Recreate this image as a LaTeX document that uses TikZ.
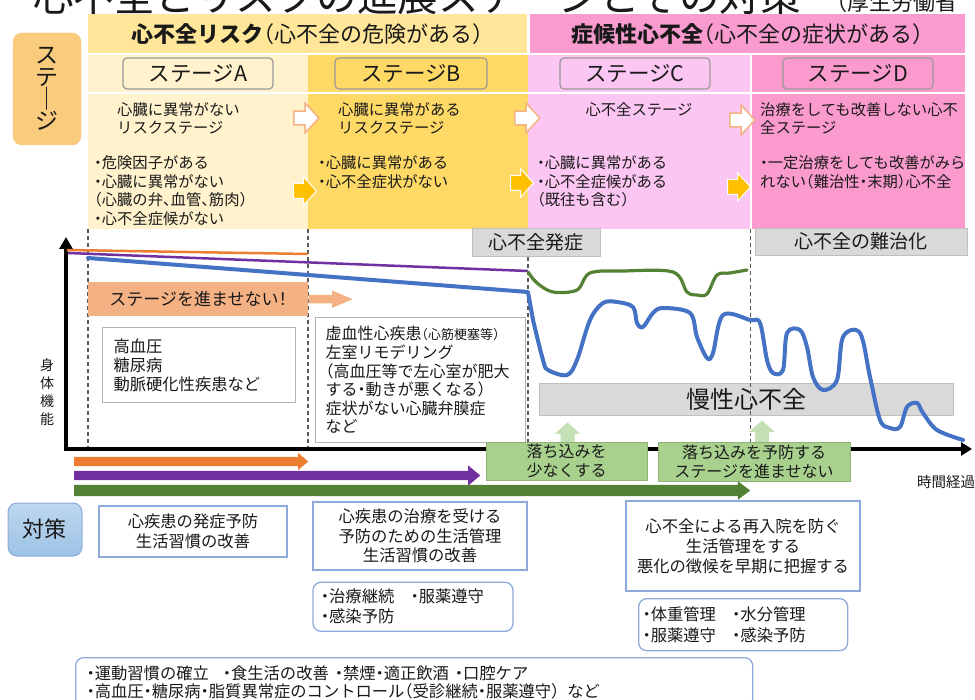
\documentclass[tikz,border=0pt]{standalone}
\usepackage{fontspec}
\setmainfont{Noto Sans CJK JP}[RawFeature=+halt]
\usepackage{tikz}
\usetikzlibrary{shapes.arrows, arrows.meta, positioning}

\definecolor{hdrrisk}{HTML}{FFE699}
\definecolor{hdrsymp}{HTML}{F99BCF}
\definecolor{stA}{HTML}{FFF2CC}
\definecolor{stB}{HTML}{FFD966}
\definecolor{stC}{HTML}{FCC6F2}
\definecolor{stD}{HTML}{FA9ACD}
\definecolor{stlbl}{HTML}{F9CB7C}
\definecolor{arrowrim}{HTML}{F4B183}
\definecolor{amber}{HTML}{FFC000}
\definecolor{grayfill}{HTML}{D9D9D9}
\definecolor{grayrim}{HTML}{BFBFBF}
\definecolor{salmon}{HTML}{F4B183}
\definecolor{lineor}{HTML}{ED7D31}
\definecolor{linepu}{HTML}{7030A0}
\definecolor{linebl}{HTML}{4472C4}
\definecolor{linegr}{HTML}{548235}
\definecolor{boxgr}{HTML}{A9D18E}
\definecolor{arrgr}{HTML}{C5E0B4}
\definecolor{planrim}{HTML}{8EAADB}
\definecolor{taitop}{HTML}{BDD7EE}
\definecolor{taibot}{HTML}{9DC3E6}

\newcommand{\fsz}[2]{\fontsize{#1}{#2}\selectfont}
\lineskiplimit=-20pt

\begin{document}
\begin{tikzpicture}[
      x=1pt, y=-1pt,
      font=\fsz{15.3}{18.5},
      every node/.style={inner sep=0pt, text=black!90},
      band/.style={anchor=north west, minimum height=39pt, font=\fsz{22}{26}},
      col/.style={anchor=north west, minimum height=174pt},
      stagebox/.style={draw=black!40, line width=1.2pt, rounded corners=4pt,
                       minimum width=150pt, minimum height=31pt, font=\fsz{21.5}{24}},
      coltxt/.style={anchor=west, align=left},
      wtarrow/.style={single arrow, anchor=tail, draw=arrowrim, fill=white, line width=1.5pt,
                      inner ysep=6pt, minimum height=25pt, minimum width=30pt,
                      single arrow head extend=8pt, single arrow tip angle=95},
      orarrow/.style={wtarrow, draw=white, line width=1pt, fill=amber, inner ysep=7pt,
                      minimum height=23pt, minimum width=27pt, single arrow head extend=6.5pt},
      sidelbl/.style={rounded corners=9pt, align=center},
      guide/.style={dash pattern=on 4pt off 3pt, line width=1.2pt, black!65},
      graybox/.style={draw=grayrim, fill=grayfill, font=\fsz{19}{22}},
      riskbox/.style={draw=black!30, line width=1pt, fill=white, anchor=north west,
                      align=left, font=\fsz{16.3}{19}},
      axisline/.style={line width=3.5pt, {Triangle[width=13pt,length=12pt]}-{Triangle[width=13pt,length=11pt]}},
      uparrow/.style={single arrow, shape border rotate=90, anchor=tail, fill=arrgr, draw=white,
                      line width=1pt, inner sep=7pt, minimum width=29pt, single arrow head extend=7pt,
                      single arrow tip angle=96},
      dipbox/.style={fill=boxgr, draw=boxgr!85!black, line width=0.6pt, align=center,
                     font=\fsz{16}{19}},
      bar/.style={single arrow, anchor=tail, draw=none},
      plan/.style={draw=planrim, line width=1.3pt, fill=white, align=center,
                   font=\fsz{16.3}{19.5}},
      planr/.style={plan, rounded corners=8pt, align=left, anchor=north west},
    ]
    \useasboundingbox (0,0) rectangle (975,700);
    \clip (0,0) rectangle (975,700);

    \node[anchor=base west, font=\fsz{40.5}{44}] (title) at (33,12) {心不全とリスクの進展ステージとその対策};
    \node[anchor=base west, font=\fsz{22}{26}] (source) at (836,10.5) {（厚生労働省};

    \node[band, fill=hdrrisk, minimum width=439pt] (risk-hdr) at (88,14) {\textbf{心不全リスク}（心不全の危険がある）};
    \node[band, fill=hdrsymp, minimum width=435pt] (symp-hdr) at (530,14) {\textbf{症候性心不全}（心不全の症状がある）};

    \node[col, fill=stA, minimum width=220pt] (col-a) at (88,55) {};
    \node[col, fill=stB, minimum width=220pt] (col-b) at (308,55) {};
    \node[col, fill=stC, minimum width=222pt] (col-c) at (528,55) {};
    \node[col, fill=stD, minimum width=213pt] (col-d) at (752,55) {};
    \draw[white, line width=1.5pt] (col-a.north west |- 0,93) -- (col-d.north east |- 0,93);

    \node[stagebox] (stage-a) at (198,73.5) {ステージA};
    \node[stagebox, minimum width=152pt] (stage-b) at (411,73.5) {ステージB};
    \node[stagebox] (stage-c) at (635,73.5) {ステージC};
    \node[stagebox] (stage-d) at (858,73.5) {ステージD};

    \node[coltxt] (a-desc) at (117,118.5) {心臓に異常がない\\リスクステージ};
    \node[coltxt] (b-desc) at (338,118.5) {心臓に異常がある\\リスクステージ};
    \node (c-desc) at (639,110) {心不全ステージ};
    \node[coltxt] (d-desc) at (760,118.5) {治療をしても改善しない心不\\全ステージ};
    \node[coltxt] (a-sign) at (94,190.5) {・危険因子がある\\・心臓に異常がない\\（心臓の弁、血管、筋肉）\\・心不全症候がない};
    \node[coltxt] (b-sign) at (318,172) {・心臓に異常がある\\・心不全症状がない};
    \node[coltxt] (c-sign) at (537,181.5) {・心臓に異常がある\\・心不全症候がある\\（既往も含む）};
    \node[coltxt] (d-sign) at (760,172.5) {・一定治療をしても改善がみら\\れない（難治性・末期）心不全};

    \node[wtarrow] (ab-desc) at (293,118) {};
    \node[wtarrow] (bc-desc) at (514,118) {};
    \node[wtarrow] (cd-desc) at (729,120) {};
    \node[orarrow] (ab-sign) at (293,191) {};
    \node[orarrow] (bc-sign) at (510,183) {};
    \node[orarrow] (cd-sign) at (727,187) {};

    \node[sidelbl, fill=stlbl, draw=stlbl!95!orange, minimum width=68pt, minimum height=112pt,
          font=\fsz{23}{22}] (stage-lbl) at (47,89) {ス\\テ\\｜\\ジ};

    \node[graybox, minimum width=414pt, minimum height=32pt, font=\fsz{24}{28}] (chronic) at (746,399) {慢性心不全};

    \draw[guide] (col-a.south west) -- (col-a.south west |- 0,449);
    \draw[guide] (col-b.south west) -- (col-b.south west |- 0,449);
    \draw[guide] (col-c.south west) -- (col-c.south west |- 0,449);
    \draw[guide] (col-c.south east) -- (col-c.south east |- 0,449);

    \node[graybox, minimum width=128pt, minimum height=28pt] (onset) at (536,242) {心不全発症};
    \node[graybox, minimum width=212pt, minimum height=27pt] (refractory) at (861,241.5) {心不全の難治化};

    \coordinate (y-tip) at (66,237);
    \coordinate (x-tip) at (972,449);
    \draw[axisline] (y-tip) |- (x-tip);
    \node[align=center, font=\fsz{14}{18}] (y-lbl) at (47,392.5) {身\\体\\機\\能};
    \node[anchor=west, font=\fsz{14.5}{17}] (x-lbl) at (917,482) {時間経過};

    \node[anchor=north west, fill=salmon, minimum width=220pt, minimum height=34pt,
          font=\fsz{17}{20}] (no-step) at (88,282) {ステージを進ませない！};
    \node[single arrow, anchor=tail, fill=salmon, inner ysep=4pt, minimum height=44pt, minimum width=17pt,
          single arrow head extend=4.5pt, single arrow tip angle=46] (no-step-tip) at (no-step.east) {};

    \node[riskbox, text width=171pt, inner xsep=11pt, minimum height=75pt] (risk-a) at (102,327)
        {高血圧\\糖尿病\\動脈硬化性疾患など};
    \node[riskbox, text width=190pt, inner xsep=10pt, minimum height=125pt, font=\fsz{16}{18.6}] (risk-b) at (315,317)
        {虚血性心疾患{\fsz{13}{18.6}（心筋梗塞等）}\\左室リモデリング\\（高血圧等で左心室が肥大\\する・動きが悪くなる）\\症状がない心臓弁膜症\\など};

    \draw[line width=2.5pt, lineor] (67,250) -- (308,254);
    \draw[line width=2.5pt, linepu] (68,253) -- (528,271);
    \draw[line width=4pt, linebl, line join=round, line cap=round] (88,258) -- (528,292)
        -- plot[smooth, tension=0.55] coordinates {(533,320) (543,360) (548,370) (567,375) (577,360)
        (590,320) (603,303) (617,302) (633,307) (637,323) (643,327) (653,313) (663,308) (690,313)
        (697,337) (707,358) (713,353) (723,315) (750,320) (760,323) (767,360) (773,373) (783,370)
        (787,333) (800,330) (807,347) (813,377) (823,390) (837,380) (843,337) (860,333) (870,377)
        (880,420) (890,428) (900,427) (907,407) (917,403) (923,413) (937,430) (963,440)};
    \draw[line width=3.2pt, linegr, line cap=round] plot[smooth, tension=0.55] coordinates {(528,272)
        (537,283) (553,292) (577,290) (590,273) (623,271) (673,272) (687,292) (697,295) (707,294)
        (717,275) (730,273) (747,270)};

    \node[uparrow, minimum height=26pt] (up-c) at (567.5,448) {};
    \node[uparrow, minimum height=28pt] (up-d) at (762,448) {};
    \node[dipbox, minimum width=161pt, minimum height=38pt] (dip-c) at (566.5,461) {落ち込みを\\少なくする};
    \node[dipbox, minimum width=192pt, minimum height=39pt] (dip-d) at (754,461.5) {落ち込みを予防する\\ステージを進ませない};

    \node[bar, fill=lineor, inner ysep=4.5pt, minimum height=234pt, minimum width=17pt,
          single arrow head extend=4pt, single arrow tip angle=81] (bar-or) at (74,461.5) {};
    \node[bar, fill=linepu, inner ysep=4.5pt, minimum height=406pt, minimum width=20pt,
          single arrow head extend=5.5pt, single arrow tip angle=80] (bar-pu) at (74,475.5) {};
    \node[bar, fill=linegr, inner ysep=5.5pt, minimum height=676pt, minimum width=18pt,
          single arrow head extend=3.5pt, single arrow tip angle=74] (bar-gr) at (74,490.5) {};

    \node[sidelbl, draw=planrim, line width=1pt, top color=taitop, bottom color=taibot,
          minimum width=74pt, minimum height=53pt, font=\fsz{22}{26}] (tai-lbl) at (45,529.5) {対策};

    \node[plan, minimum width=188pt, minimum height=51pt] (plan-a) at (193,531.5) {心疾患の発症予防\\生活習慣の改善};
    \node[plan, minimum width=214pt, minimum height=68pt] (plan-b) at (420,536) {心疾患の治療を受ける\\予防のための生活管理\\生活習慣の改善};
    \node[planr, text width=184pt, inner xsep=8pt, minimum height=49pt, font=\fsz{16.3}{20}] (care-b)
        [below=11pt of plan-b.south west, anchor=north west] {・治療継続　・服薬遵守\\・感染予防};
    \node[plan, minimum width=234pt, minimum height=90pt, font=\fsz{16.3}{20}] (plan-c) at (743,546)
        {心不全による再入院を防ぐ\\生活管理をする\\悪化の徴候を早期に把握する};
    \node[planr, text width=201pt, inner xsep=4pt, minimum height=52pt, font=\fsz{16.3}{21.7}] (care-c)
        at (638,598) {・体重管理　・水分管理\\・服薬遵守　・感染予防};
    \node[planr, text width=655pt, inner xsep=11pt, minimum height=50pt, font=\fsz{16.3}{18}] (life-all)
        at (75,657) {・運動習慣の確立\hspace{14pt}・食生活の改善\hspace{6pt}・禁煙・適正飲酒\hspace{6pt}・口腔ケア\\・高血圧・糖尿病・脂質異常症のコントロール（受診継続・服薬遵守）\hspace{8pt}など};
  \end{tikzpicture}
\end{document}
